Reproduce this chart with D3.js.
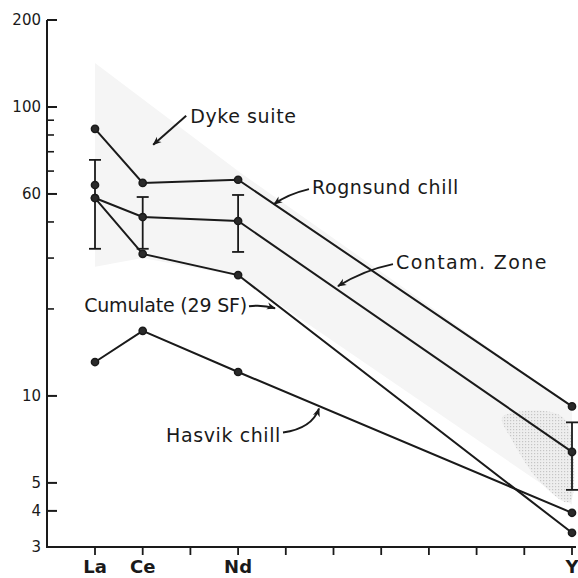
<!doctype html>
<html lang="en">
  <head>
    <meta charset="UTF-8" />
    <title>REE pattern - dyke suite</title>
    <style>
      body {
        margin: 0;
        background: #fff;
      }
      svg {
        display: block;
      }
      .ann {
        font-family: "DejaVu Sans", sans-serif;
        font-size: 19px;
        letter-spacing: 0.6px;
        fill: #1a1a1a;
      }
    </style>
  </head>
  <body>
    <svg id="chart" width="578" height="578"></svg>

    <script src="https://d3js.org/d3.v7.min.js"></script>
    <script>
      // x positions: element slots, only some are labelled
      const xCategories = ["La", "Ce", "", "Nd", "", "", "", "", "", "", "Y"];

      // y ticks (the printed "60" sits on the 50 tick in the original)
      const yMajorTicks = [200, 100, 50, 10, 5, 4, 3];
      const yMajorLabels = ["200", "100", "60", "10", "5", "4", "3"];
      const yMinorTicks = [20, 30, 40, 60, 70, 80, 90];

      // series: [slot index, value]
      const rognsund = [[0, 84], [1, 54.6], [3, 56], [10, 9.2]];
      const contam = [[0, 48.4], [1, 41.6], [3, 40.3], [10, 6.4]];
      const cumulate = [[0, 48.4], [1, 31], [3, 26.2], [10, 3.36]];
      const hasvik = [[0, 13.1], [1, 16.8], [3, 12.1], [10, 3.94]];
      const loosePoints = [[0, 53.7]];

      // error bars: [slot, low, high]
      const errBars = [[0, 32.3, 65.6], [1, 32.3, 48.8], [3, 31.5, 49.6], [10, 4.73, 8.1]];

      // dyke suite field
      const fieldUpper = [[0, 142], [3, 60], [10, 9.2]];
      const fieldLower = [[0, 28], [1, 30], [3, 26], [10, 4.2]];
      const densePatch = [[8.6, 8.6], [9.85, 8.3], [10, 4.4], [9.35, 5.0], [8.75, 7.0]];

      const svg = d3.select("#chart");
      const ink = "#1a1a1a";

      const x = d3.scaleLinear().domain([0, 10]).range([95, 572]);
      const y = d3.scaleLog().domain([3, 200]).range([547, 20]);
      const axisX = 47;

      // ---- shaded field
      const defs = svg.append("defs");
      const pat = defs
        .append("pattern")
        .attr("id", "stip")
        .attr("width", 3)
        .attr("height", 3)
        .attr("patternUnits", "userSpaceOnUse");
      pat.append("rect").attr("width", 3).attr("height", 3).attr("fill", "#ebebeb");
      pat.append("rect").attr("width", 1.2).attr("height", 1.2).attr("fill", "#b0b0b0");

      defs
        .append("marker")
        .attr("id", "head")
        .attr("viewBox", "0 0 10 10")
        .attr("refX", 9)
        .attr("refY", 5)
        .attr("markerWidth", 9)
        .attr("markerHeight", 9)
        .attr("markerUnits", "userSpaceOnUse")
        .attr("orient", "auto")
        .append("path")
        .attr("d", "M0,1 L10,5 L0,9 L3,5 Z")
        .attr("fill", ink);

      const poly = d3
        .line()
        .x((d) => x(d[0]))
        .y((d) => y(d[1]));

      const fieldPts = fieldUpper.concat(fieldLower.slice().reverse());
      svg
        .append("path")
        .attr("d", poly(fieldPts) + "Z")
        .attr("fill", "#f5f5f5");

      svg
        .append("path")
        .attr("d", d3.line().curve(d3.curveCardinalClosed)
          .x((d) => x(d[0])).y((d) => y(d[1]))(densePatch))
        .attr("fill", "url(#stip)")
        .attr("opacity", 0.7);

      // ---- axes
      const gy = svg.append("g");
      gy.append("line")
        .attr("x1", axisX).attr("x2", axisX)
        .attr("y1", y(3) + 1).attr("y2", y(200))
        .attr("stroke", ink).attr("stroke-width", 2);
      gy.selectAll(".maj")
        .data(yMajorTicks)
        .join("line")
        .attr("x1", axisX).attr("x2", axisX + 10)
        .attr("y1", (d) => y(d)).attr("y2", (d) => y(d))
        .attr("stroke", ink).attr("stroke-width", 2);
      gy.selectAll(".min")
        .data(yMinorTicks)
        .join("line")
        .attr("x1", axisX).attr("x2", axisX + 7)
        .attr("y1", (d) => y(d)).attr("y2", (d) => y(d))
        .attr("stroke", ink).attr("stroke-width", 1.6);
      gy.selectAll("text")
        .data(yMajorTicks)
        .join("text")
        .attr("x", axisX - 6)
        .attr("y", (d) => y(d))
        .attr("dy", "0.36em")
        .attr("text-anchor", "end")
        .attr("font-family", "DejaVu Sans, sans-serif")
        .attr("font-size", 15)
        .attr("fill", ink)
        .text((d, i) => yMajorLabels[i]);

      const gx = svg.append("g");
      gx.append("line")
        .attr("x1", axisX).attr("x2", 576)
        .attr("y1", y(3)).attr("y2", y(3))
        .attr("stroke", ink).attr("stroke-width", 2);
      gx.selectAll(".tk")
        .data(xCategories.map((c, i) => i))
        .join("line")
        .attr("x1", (d) => x(d)).attr("x2", (d) => x(d))
        .attr("y1", y(3)).attr("y2", y(3) + 8)
        .attr("stroke", ink).attr("stroke-width", 1.8);
      gx.selectAll("text")
        .data(xCategories.map((c, i) => [i, c]).filter((d) => d[1]))
        .join("text")
        .attr("x", (d) => x(d[0]))
        .attr("y", 573)
        .attr("text-anchor", "middle")
        .attr("font-family", "DejaVu Sans, sans-serif")
        .attr("font-weight", "bold")
        .attr("font-size", 18)
        .attr("fill", ink)
        .text((d) => d[1]);

      // ---- error bars
      const eb = svg.append("g").attr("stroke", ink).attr("stroke-width", 1.8);
      errBars.forEach(([i, lo, hi]) => {
        eb.append("line").attr("x1", x(i)).attr("x2", x(i)).attr("y1", y(lo)).attr("y2", y(hi));
        eb.append("line").attr("x1", x(i) - 6).attr("x2", x(i) + 6).attr("y1", y(lo)).attr("y2", y(lo));
        eb.append("line").attr("x1", x(i) - 6).attr("x2", x(i) + 6).attr("y1", y(hi)).attr("y2", y(hi));
      });

      // ---- series
      const allSeries = [rognsund, contam, cumulate, hasvik];
      svg
        .append("g")
        .selectAll("path")
        .data(allSeries)
        .join("path")
        .attr("d", poly)
        .attr("fill", "none")
        .attr("stroke", ink)
        .attr("stroke-width", 2);

      svg
        .append("g")
        .selectAll("circle")
        .data(allSeries.flat().concat(loosePoints))
        .join("circle")
        .attr("cx", (d) => x(d[0]))
        .attr("cy", (d) => y(d[1]))
        .attr("r", 3.6)
        .attr("fill", "#2a2a2a")
        .attr("stroke", ink)
        .attr("stroke-width", 1.5);

      // ---- annotations
      function onLine(series, xi) {
        for (let k = 0; k < series.length - 1; k++) {
          const a = series[k], b = series[k + 1];
          if (xi >= a[0] && xi <= b[0]) {
            const t = (xi - a[0]) / (b[0] - a[0]);
            return [x(xi), y(a[1]) + t * (y(b[1]) - y(a[1]))];
          }
        }
      }

      function arrow(pts) {
        const p = d3.path();
        p.moveTo(pts[0][0], pts[0][1]);
        if (pts.length === 3) p.quadraticCurveTo(pts[1][0], pts[1][1], pts[2][0], pts[2][1]);
        else p.lineTo(pts[1][0], pts[1][1]);
        svg.append("path")
          .attr("d", p.toString())
          .attr("fill", "none")
          .attr("stroke", ink)
          .attr("stroke-width", 2)
          .attr("marker-end", "url(#head)");
      }

      function label(txt, px, py, anchor, spacing) {
        const el = svg.append("text")
          .attr("class", "ann")
          .attr("x", px).attr("y", py)
          .attr("text-anchor", anchor || "start")
          .text(txt);
        if (spacing != null) el.style("letter-spacing", spacing + "px");
      }

      // Dyke suite
      let t = [x(1.22), y(74)];
      arrow([[t[0] + 33, t[1] - 29], t]);
      label("Dyke suite", t[0] + 37, t[1] - 22);

      // Rognsund chill
      t = onLine(rognsund, (274 - 95) / 47.7);
      arrow([[t[0] + 35, t[1] - 15], [t[0] + 14, t[1] - 10], t]);
      label("Rognsund chill", t[0] + 38, t[1] - 10);

      // Contam. Zone
      t = onLine(contam, (338 - 95) / 47.7);
      arrow([[t[0] + 55, t[1] - 26], [t[0] + 26, t[1] - 20], [t[0], t[1] - 4]]);
      label("Contam. Zone", t[0] + 58, t[1] - 21, "start", 1.4);

      // Cumulate (29 SF)
      t = onLine(cumulate, (276 - 95) / 47.7);
      arrow([[t[0] - 27, t[1] + 2], [t[0] - 14, t[1] + 0], [t[0] - 1, t[1] + 4]]);
      label("Cumulate (29 SF)", t[0] - 29, t[1] + 8, "end", -0.2);

      // Hasvik chill
      t = onLine(hasvik, (320 - 95) / 47.7);
      arrow([[t[0] - 37, t[1] + 26], [t[0] - 8, t[1] + 22], [t[0] - 1, t[1] + 2]]);
      label("Hasvik chill", t[0] - 39, t[1] + 35, "end");
    </script>
  </body>
</html>
